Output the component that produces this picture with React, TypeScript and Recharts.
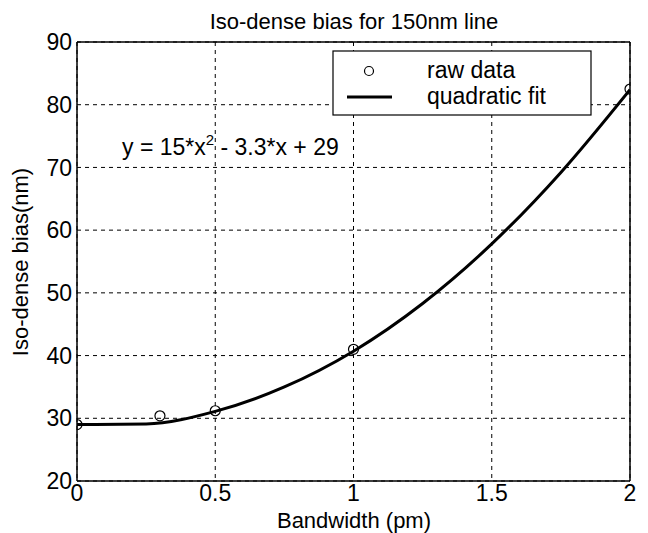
import React from "react";
import {
  ComposedChart,
  Line,
  Scatter,
  XAxis,
  YAxis,
  CartesianGrid,
  ReferenceLine,
} from "recharts";

// raw measurements
const rawX = [0, 0.3, 0.5, 1, 2];
const rawBias = [29, 30.4, 31.2, 41, 82.5];

// quadratic fit curve
const fitX = [0, 0.25, 0.5, 0.75, 1, 1.25, 1.5, 1.75, 2];
const fitBias = [29, 29.1, 31.1, 35, 40.7, 48.3, 57.8, 69.2, 82.4];

const xTicks = [0, 0.5, 1, 1.5, 2];
const yTicks = [20, 30, 40, 50, 60, 70, 80, 90];

const rawData = rawX.map((x, i) => ({ x, y: rawBias[i] }));
const fitData = fitX.map((x, i) => ({ x, y: fitBias[i] }));

const FONT = "'Liberation Sans', Arial, Helvetica, sans-serif";

const OpenCircle = (props: any) => {
  const { cx, cy } = props;
  return <circle cx={cx} cy={cy} r={5} fill="none" stroke="#000" strokeWidth={1.2} />;
};

export default function App() {
  return (
    <div style={{ position: "absolute", left: 0, top: 0, width: 648, height: 533, background: "#fff" }}>
      <ComposedChart
        width={648}
        height={533}
        margin={{ top: 42, right: 18, left: 0, bottom: 0 }}
        style={{ fontFamily: FONT }}
      >
        <CartesianGrid stroke="#000" strokeDasharray="4 4" strokeWidth={1} />
        <XAxis
          type="number"
          dataKey="x"
          domain={[0, 2]}
          ticks={xTicks}
          height={52}
          tickLine={false}
          tickSize={0}
          tickMargin={4}
          axisLine={{ stroke: "#000", strokeWidth: 1.5 }}
          tick={{ fill: "#000", fontSize: 23, fontFamily: FONT }}
          allowDataOverflow
        />
        <YAxis
          type="number"
          dataKey="y"
          domain={[20, 90]}
          ticks={yTicks}
          width={77}
          tickLine={false}
          tickSize={0}
          tickMargin={5}
          axisLine={{ stroke: "#000", strokeWidth: 1.5 }}
          tick={{ fill: "#000", fontSize: 23, fontFamily: FONT }}
          allowDataOverflow
        />
        <ReferenceLine y={90} stroke="#000" strokeWidth={1.5} />
        <ReferenceLine x={2} stroke="#000" strokeWidth={1.5} />
        <Line
          data={fitData}
          dataKey="y"
          type="monotone"
          stroke="#000"
          strokeWidth={3}
          dot={false}
          isAnimationActive={false}
        />
        <Scatter data={rawData} dataKey="y" shape={OpenCircle} isAnimationActive={false} />
      </ComposedChart>
      <svg
        width={648}
        height={533}
        style={{ position: "absolute", left: 0, top: 0, pointerEvents: "none", fontFamily: FONT }}
      >
        <text x={354} y={29} textAnchor="middle" fontSize={22} fill="#000">
          Iso-dense bias for 150nm line
        </text>
        <text x={354} y={528} textAnchor="middle" fontSize={22} fill="#000">
          Bandwidth (pm)
        </text>
        <text
          x={0}
          y={0}
          transform="translate(28,262) rotate(-90)"
          textAnchor="middle"
          fontSize={22}
          fill="#000"
        >
          Iso-dense bias(nm)
        </text>
        <text x={122} y={155} fontSize={23} fill="#000">
          y = 15*x<tspan dy={-10} fontSize={15}>2</tspan>
          <tspan dy={10}> - 3.3*x + 29</tspan>
        </text>
        <rect x={333} y={51} width={258} height={64} fill="#fff" stroke="#000" strokeWidth={1.2} />
        <circle cx={369} cy={71} r={4.5} fill="none" stroke="#000" strokeWidth={1.2} />
        <line x1={347} y1={97} x2={392} y2={97} stroke="#000" strokeWidth={3} />
        <text x={427} y={78} fontSize={23} fill="#000">raw data</text>
        <text x={427} y={104} fontSize={23} fill="#000">quadratic fit</text>
      </svg>
    </div>
  );
}
